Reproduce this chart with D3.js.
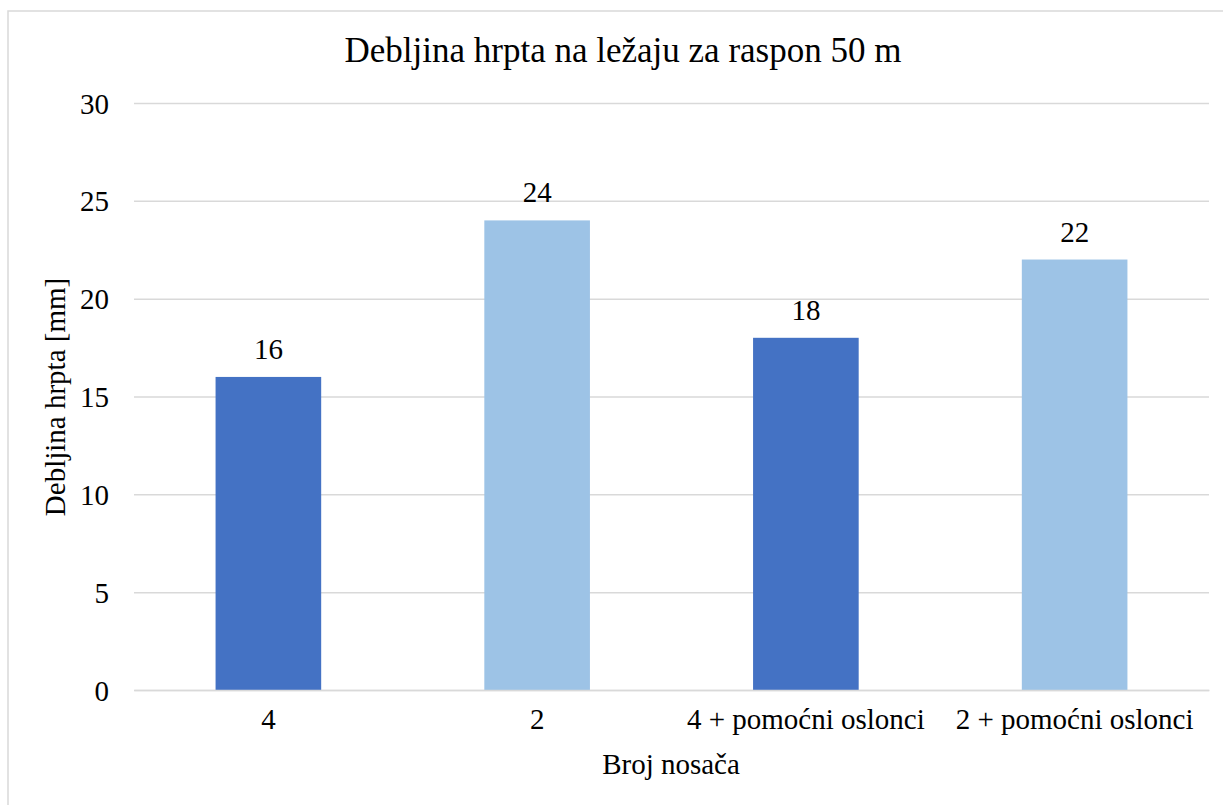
<!DOCTYPE html>
<html><head><meta charset="utf-8">
<script src="https://cdn.jsdelivr.net/npm/d3@7"></script>
<style>body{margin:0;background:#fff}svg{display:block}</style>
</head><body><svg id="c" width="1223" height="805"></svg>
<script>
const categories = ["4", "2", "4 + pomoćni oslonci", "2 + pomoćni oslonci"];
const values = [16, 24, 18, 22];
const barColors = ["#4472C4", "#9DC3E6", "#4472C4", "#9DC3E6"];
const yTicks = [0, 5, 10, 15, 20, 25, 30];
const title = "Debljina hrpta na ležaju za raspon 50 m";
const yTitle = "Debljina hrpta [mm]";
const xTitle = "Broj nosača";

const svg = d3.select("#c");
const font = "Liberation Serif, Times New Roman, serif";
const fs = 29;
const m = {left: 134, right: 1209, top: 103, bottom: 690};

svg.append("rect").attr("x", 8).attr("y", 11).attr("width", 1230).attr("height", 810)
  .attr("fill", "#fff").attr("stroke", "#d9d9d9").attr("stroke-width", 1.5);

const x = d3.scaleBand().domain(categories).range([m.left, m.right]).padding(0);
const y = d3.scaleLinear().domain([0, 30]).range([m.bottom, m.top]);
const barW = x.bandwidth() * 0.393;

const yAxis = d3.axisLeft(y).tickValues(yTicks).tickSize(-(m.right - m.left)).tickPadding(25);
const gy = svg.append("g").attr("transform", `translate(${m.left},0)`).call(yAxis);
gy.attr("font-family", font);
gy.select(".domain").remove();
gy.selectAll(".tick line").attr("stroke", "#d9d9d9").attr("stroke-width", 1.5);
gy.selectAll(".tick text").attr("font-size", fs).attr("fill", "#000").attr("dy", "0.35em");

svg.append("g").selectAll("rect").data(values).join("rect")
  .attr("x", (d, i) => x(categories[i]) + x.bandwidth() / 2 - barW / 2)
  .attr("width", barW)
  .attr("y", d => y(d))
  .attr("height", d => y(0) - y(d))
  .attr("fill", (d, i) => barColors[i]);

svg.append("g").selectAll("text").data(values).join("text")
  .attr("x", (d, i) => x(categories[i]) + x.bandwidth() / 2)
  .attr("y", d => y(d) - 18)
  .attr("text-anchor", "middle").attr("font-family", font).attr("font-size", fs)
  .text(d => d);

const xAxis = d3.axisBottom(x).tickSize(0).tickPadding(18);
const gx = svg.append("g").attr("transform", `translate(0,${m.bottom})`).call(xAxis);
gx.attr("font-family", font);
gx.select(".domain").attr("stroke", "#d9d9d9").attr("stroke-width", 1.5);
gx.selectAll(".tick text").attr("font-size", fs).attr("fill", "#000");

svg.append("text").attr("x", 623).attr("y", 62).attr("text-anchor", "middle")
  .attr("font-family", font).attr("font-size", 35).text(title);
svg.append("text").attr("x", 671).attr("y", 774).attr("text-anchor", "middle")
  .attr("font-family", font).attr("font-size", fs).text(xTitle);
svg.append("text").attr("transform", "translate(65,397) rotate(-90)").attr("text-anchor", "middle")
  .attr("font-family", font).attr("font-size", fs).text(yTitle);
</script></body></html>
